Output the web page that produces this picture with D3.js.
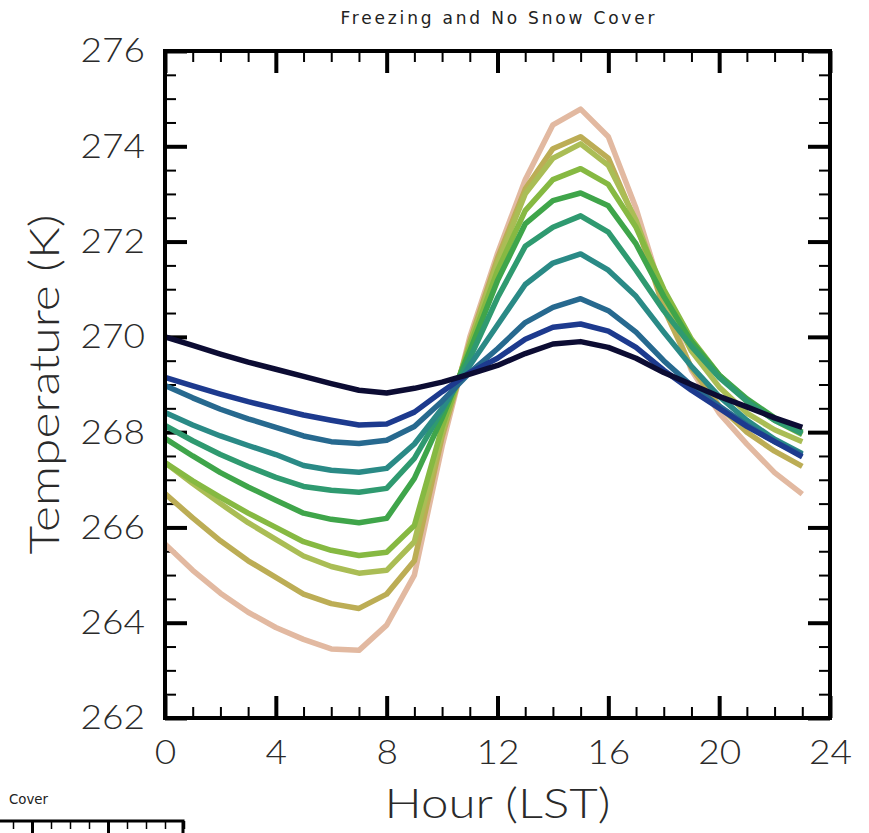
<!DOCTYPE html>
<html>
<head>
<meta charset="utf-8">
<script src="https://cdn.jsdelivr.net/npm/d3@7"></script>
<style>
  html, body { margin: 0; padding: 0; background: #fff; }
  svg { display: block; }
  .lbl { font-family: Lato, Roboto, "DejaVu Sans", sans-serif; font-weight: 300; fill: #2a2a2a; }
</style>
</head>
<body>
<svg id="chart" width="869" height="833"></svg>
<script>
// ---------------- data ----------------
const hours = d3.range(0, 24);
const xTicks = [0, 4, 8, 12, 16, 20, 24];
const yTicks = [262, 264, 266, 268, 270, 272, 274, 276];
const chartTitle = "Freezing and No Snow Cover";
const xTitle = "Hour (LST)";
const yTitle = "Temperature (K)";

// series ordered from warmest-peak (drawn first) to coolest-peak (drawn last)
const sPeach  = [265.65,265.10,264.62,264.22,263.90,263.65,263.45,263.42,263.95,265.00,267.70,270.00,271.75,273.30,274.45,274.78,274.20,272.70,270.80,269.30,268.40,267.75,267.15,266.70];
const sOlive  = [266.71,266.20,265.72,265.30,264.95,264.60,264.40,264.30,264.60,265.30,267.90,269.90,271.65,273.10,273.95,274.20,273.75,272.40,270.60,269.35,268.55,268.00,267.60,267.28];
const sYellow = [267.36,266.92,266.50,266.10,265.75,265.40,265.18,265.04,265.10,265.70,268.00,269.85,271.55,273.00,273.75,274.05,273.60,272.45,270.85,269.70,268.95,268.40,268.05,267.80];
const sLtGrn  = [267.36,266.98,266.63,266.30,266.00,265.70,265.52,265.41,265.48,266.04,268.10,269.80,271.39,272.65,273.30,273.53,273.20,272.30,271.00,269.95,269.20,268.65,268.25,267.95];
const sGreen  = [267.87,267.50,267.15,266.85,266.57,266.30,266.17,266.10,266.19,267.03,268.30,269.70,271.18,272.37,272.86,273.02,272.75,271.95,270.85,269.90,269.20,268.70,268.30,268.00];
const sTlGrn  = [268.14,267.82,267.53,267.28,267.05,266.86,266.78,266.74,266.82,267.45,268.45,269.55,270.82,271.90,272.30,272.54,272.20,271.40,270.55,269.80,269.15,268.65,268.25,267.97];
const sTeal   = [268.41,268.15,267.92,267.72,267.53,267.30,267.20,267.16,267.24,267.75,268.50,269.40,270.25,271.10,271.55,271.74,271.40,270.85,270.10,269.38,268.75,268.25,267.85,267.55];
const sBlTeal = [268.98,268.72,268.48,268.28,268.10,267.92,267.80,267.76,267.83,268.12,268.65,269.25,269.75,270.30,270.62,270.80,270.55,270.10,269.50,268.98,268.55,268.15,267.80,267.52];
const sBlue   = [269.15,268.97,268.80,268.64,268.50,268.36,268.25,268.15,268.17,268.42,268.85,269.25,269.55,269.95,270.20,270.27,270.12,269.78,269.30,268.88,268.50,268.12,267.80,267.48];
const sBlack  = [270.00,269.82,269.64,269.47,269.32,269.17,269.02,268.88,268.82,268.92,269.05,269.22,269.40,269.65,269.85,269.90,269.78,269.55,269.25,269.00,268.75,268.53,268.30,268.10];

const seriesList = [sPeach, sOlive, sYellow, sLtGrn, sGreen, sTlGrn, sTeal, sBlTeal, sBlue, sBlack];
const palette = ["#e2b9a1","#bcad55","#aabd55","#86b942","#3fa54a","#2f9a70","#2a8a86","#27698f","#1d3a8e","#0c0c33"];

// ---------------- layout ----------------
const svg = d3.select("#chart");
const L = 165, R = 830, T = 51, B = 718;

const x = d3.scaleLinear().domain([0, 24]).range([L, R]);
const y = d3.scaleLinear().domain([262, 276]).range([B, T]);

const xMinor = d3.range(0, 25, 1);
const yMinor = d3.range(262, 276.01, 0.5);

function styleTicks(g, w) {
  g.select(".domain").remove();
  g.selectAll(".tick line").attr("stroke", "#000").attr("stroke-width", w);
}

// minor ticks (inward)
svg.append("g").attr("transform", `translate(0,${B})`)
  .call(d3.axisBottom(x).tickValues(xMinor).tickSize(-11).tickFormat(""))
  .call(g => styleTicks(g, 2));
svg.append("g").attr("transform", `translate(0,${T})`)
  .call(d3.axisTop(x).tickValues(xMinor).tickSize(-11).tickFormat(""))
  .call(g => styleTicks(g, 2));
svg.append("g").attr("transform", `translate(${L},0)`)
  .call(d3.axisLeft(y).tickValues(yMinor).tickSize(-11).tickFormat(""))
  .call(g => styleTicks(g, 2));
svg.append("g").attr("transform", `translate(${R},0)`)
  .call(d3.axisRight(y).tickValues(yMinor).tickSize(-11).tickFormat(""))
  .call(g => styleTicks(g, 2));

// major ticks
const gxb = svg.append("g").attr("transform", `translate(0,${B})`)
  .call(d3.axisBottom(x).tickValues(xTicks).tickSize(-22).tickPadding(22).tickFormat(d3.format("d")))
  .call(g => styleTicks(g, 4));
svg.append("g").attr("transform", `translate(0,${T})`)
  .call(d3.axisTop(x).tickValues(xTicks).tickSize(-22).tickFormat(""))
  .call(g => styleTicks(g, 4));
const gyl = svg.append("g").attr("transform", `translate(${L},0)`)
  .call(d3.axisLeft(y).tickValues(yTicks).tickSize(-22).tickPadding(20).tickFormat(d3.format("d")))
  .call(g => styleTicks(g, 4));
svg.append("g").attr("transform", `translate(${R},0)`)
  .call(d3.axisRight(y).tickValues(yTicks).tickSize(-22).tickFormat(""))
  .call(g => styleTicks(g, 4));

[gxb, gyl].forEach(g => g.selectAll(".tick text")
  .attr("class", "lbl").attr("font-size", 34)
  .attr("lengthAdjust", "spacingAndGlyphs")
  .attr("textLength", d => String(d).length * 21.5));
gxb.selectAll(".tick text").attr("dy", "0.71em");

// lines
const line = d3.line().x((d, i) => x(hours[i])).y(d => y(d));
svg.append("g").selectAll("path").data(seriesList).join("path")
  .attr("d", line)
  .attr("fill", "none")
  .attr("stroke", (d, i) => palette[i])
  .attr("stroke-width", 5.5)
  .attr("stroke-linejoin", "round")
  .attr("stroke-linecap", "butt");

// frame
svg.append("rect").attr("x", L).attr("y", T).attr("width", R - L).attr("height", B - T)
  .attr("fill", "none").attr("stroke", "#000").attr("stroke-width", 4);

// titles
svg.append("text").attr("x", (L + R) / 2).attr("y", 24).attr("text-anchor", "middle")
  .attr("font-family", "DejaVu Sans, sans-serif").attr("font-size", 17)
  .attr("textLength", 314).attr("lengthAdjust", "spacing")
  .attr("fill", "#222").text(chartTitle);
svg.append("text").attr("class", "lbl").attr("x", (L + R) / 2).attr("y", 818)
  .attr("text-anchor", "middle").attr("font-size", 41)
  .attr("textLength", 226).attr("lengthAdjust", "spacingAndGlyphs").text(xTitle);
svg.append("text").attr("class", "lbl")
  .attr("transform", `translate(59,${(T + B) / 2}) rotate(-90)`)
  .attr("text-anchor", "middle").attr("font-size", 41)
  .attr("textLength", 340).attr("lengthAdjust", "spacingAndGlyphs").text(yTitle);

// fragment of neighbouring panel at bottom-left
const fx = d3.scaleLinear().domain([0, 1]).range([32, 108]);
svg.append("text").attr("x", 9).attr("y", 804)
  .attr("font-family", "DejaVu Sans, sans-serif").attr("font-size", 14)
  .attr("textLength", 39).attr("lengthAdjust", "spacingAndGlyphs")
  .attr("fill", "#222").text("Cover");
svg.append("g").attr("transform", "translate(0,821)")
  .call(d3.axisTop(fx).tickValues(d3.range(-0.25, 2.01, 0.25)).tickSize(-8).tickFormat(""))
  .call(g => styleTicks(g, 1.5));
svg.append("g").attr("transform", "translate(0,821)")
  .call(d3.axisTop(fx).tickValues([0, 1]).tickSize(-14).tickFormat(""))
  .call(g => styleTicks(g, 3));
svg.append("path").attr("d", "M0,821H183V833").attr("fill", "none")
  .attr("stroke", "#000").attr("stroke-width", 3);
</script>
</body>
</html>
